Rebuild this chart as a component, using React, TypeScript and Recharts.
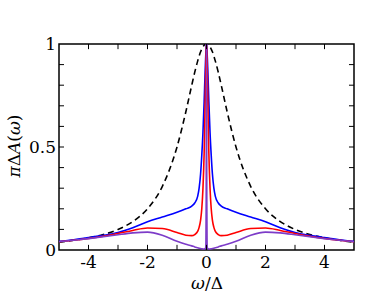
import {
  Label,
  Line,
  LineChart,
  ReferenceArea,
  ReferenceLine,
  XAxis,
  YAxis,
} from "recharts";

const omega = [
  -5, -4.5, -4, -3.5, -3, -2.5, -2, -1.5, -1, -0.7, -0.5, -0.4, -0.3, -0.25, -0.2, -0.16, -0.12, -0.08, -0.05,
  -0.03, -0.02, -0.01, 0, 0.01, 0.02, 0.03, 0.05, 0.08, 0.12, 0.16, 0.2, 0.25, 0.3, 0.4, 0.5, 0.7, 1, 1.5, 2,
  2.5, 3, 3.5, 4, 4.5, 5,
];

const dashed = [
  0.038, 0.047, 0.059, 0.075, 0.1, 0.138, 0.2, 0.308, 0.5, 0.671, 0.8, 0.862, 0.917, 0.941, 0.962, 0.975, 0.986,
  0.994, 0.998, 0.999, 1, 1, 1, 1, 1, 0.999, 0.998, 0.994, 0.986, 0.975, 0.962, 0.941, 0.917, 0.862, 0.8, 0.671,
  0.5, 0.308, 0.2, 0.138, 0.1, 0.075, 0.059, 0.047, 0.038,
];

const blue = [
  0.042, 0.05, 0.06, 0.071, 0.085, 0.108, 0.137, 0.16, 0.183, 0.2, 0.213, 0.228, 0.26, 0.3, 0.37, 0.46, 0.57,
  0.72, 0.85, 0.93, 0.96, 0.99, 1, 0.99, 0.96, 0.93, 0.85, 0.72, 0.57, 0.46, 0.37, 0.3, 0.26, 0.228, 0.213, 0.2,
  0.183, 0.16, 0.137, 0.108, 0.085, 0.071, 0.06, 0.05, 0.042,
];

const red = [
  0.04, 0.047, 0.056, 0.067, 0.08, 0.095, 0.107, 0.104, 0.085, 0.072, 0.07, 0.075, 0.09, 0.11, 0.145, 0.2, 0.3,
  0.47, 0.68, 0.85, 0.92, 0.97, 1, 0.97, 0.92, 0.85, 0.68, 0.47, 0.3, 0.2, 0.145, 0.11, 0.09, 0.075, 0.07, 0.072,
  0.085, 0.104, 0.107, 0.095, 0.08, 0.067, 0.056, 0.047, 0.04,
];

const purple = [
  0.04, 0.047, 0.055, 0.064, 0.074, 0.083, 0.087, 0.072, 0.042, 0.028, 0.02, 0.015, 0.011, 0.009, 0.007, 0.006,
  0.005, 0.005, 0.006, 0.01, 0.03, 0.25, 1, 0.25, 0.03, 0.01, 0.006, 0.005, 0.005, 0.006, 0.007, 0.009, 0.011,
  0.015, 0.02, 0.028, 0.042, 0.072, 0.087, 0.083, 0.074, 0.064, 0.055, 0.047, 0.04,
];

const xTickLabels = [-4, -2, 0, 2, 4];
const yTickLabels = [0, 0.5, 1];
const xTickMarks = [-4, -3, -2, -1, 0, 1, 2, 3, 4];
const yTickMarks = [0.1, 0.2, 0.3, 0.4, 0.5, 0.6, 0.7, 0.8, 0.9];

const font = "'DejaVu Serif', serif";
const textStyle = { fontFamily: font, fontSize: 17 };

const rows = omega.map((w, i) => ({
  w,
  dashed: dashed[i],
  blue: blue[i],
  red: red[i],
  purple: purple[i],
}));

export default function App() {
  return (
    <div
      style={{ position: "absolute", left: 0, top: 0, width: 382, height: 296, background: "#fff", fontFamily: font }}
    >
      <LineChart width={382} height={296} data={rows} margin={{ top: 44, right: 28, bottom: 0, left: 0 }}>
        <XAxis
          dataKey="w"
          type="number"
          domain={[-5, 5]}
          ticks={xTickLabels}
          allowDataOverflow
          axisLine={false}
          tickLine={false}
          tickSize={0}
          tickMargin={6}
          height={46}
          tick={{ fill: "#000", fontSize: 17, fontFamily: font, style: textStyle }}
          tickFormatter={(v: number) => String(v)}
        >
          <Label
            content={() => (
              <text x={207} y={289} textAnchor="middle" style={textStyle} fill="#000">
                <tspan fontStyle="italic">ω</tspan>/Δ
              </text>
            )}
          />
        </XAxis>
        <YAxis
          type="number"
          domain={[0, 1]}
          ticks={yTickLabels}
          allowDataOverflow
          axisLine={false}
          tickLine={false}
          tickSize={0}
          tickMargin={3}
          width={59}
          tick={{ fill: "#000", fontSize: 17, fontFamily: font, style: textStyle }}
          tickFormatter={(v: number) => String(v)}
        >
          <Label
            content={() => (
              <text
                x={20}
                y={146}
                transform="rotate(-90 20 146)"
                textAnchor="middle"
                style={textStyle}
                fill="#000"
              >
                <tspan fontStyle="italic">π</tspan>Δ<tspan fontStyle="italic">A</tspan>(<tspan fontStyle="italic">ω</tspan>)
              </text>
            )}
          />
        </YAxis>

        <Line
          type="monotone"
          dataKey="dashed"
          stroke="#000"
          strokeWidth={1.6}
          strokeDasharray="6 4"
          dot={false}
          isAnimationActive={false}
        />
        <Line type="monotone" dataKey="blue" stroke="#0000ff" strokeWidth={1.6} dot={false} isAnimationActive={false} />
        <Line type="monotone" dataKey="red" stroke="#ff0000" strokeWidth={1.6} dot={false} isAnimationActive={false} />
        <Line
          type="monotone"
          dataKey="purple"
          stroke="#7d3cc8"
          strokeWidth={1.6}
          dot={false}
          isAnimationActive={false}
        />

        {xTickMarks.map((t) => (
          <ReferenceLine key={`xb${t}`} segment={[{ x: t, y: 0 }, { x: t, y: 0.025 }]} stroke="#000" strokeWidth={1} />
        ))}
        {xTickMarks.map((t) => (
          <ReferenceLine key={`xt${t}`} segment={[{ x: t, y: 1 }, { x: t, y: 0.975 }]} stroke="#000" strokeWidth={1} />
        ))}
        {yTickMarks.map((t) => (
          <ReferenceLine key={`yl${t}`} segment={[{ x: -5, y: t }, { x: -4.83, y: t }]} stroke="#000" strokeWidth={1} />
        ))}
        {yTickMarks.map((t) => (
          <ReferenceLine key={`yr${t}`} segment={[{ x: 5, y: t }, { x: 4.83, y: t }]} stroke="#000" strokeWidth={1} />
        ))}
        <ReferenceArea x1={-5} x2={5} y1={0} y2={1} fill="none" stroke="#000" strokeWidth={1.5} />
      </LineChart>
    </div>
  );
}
